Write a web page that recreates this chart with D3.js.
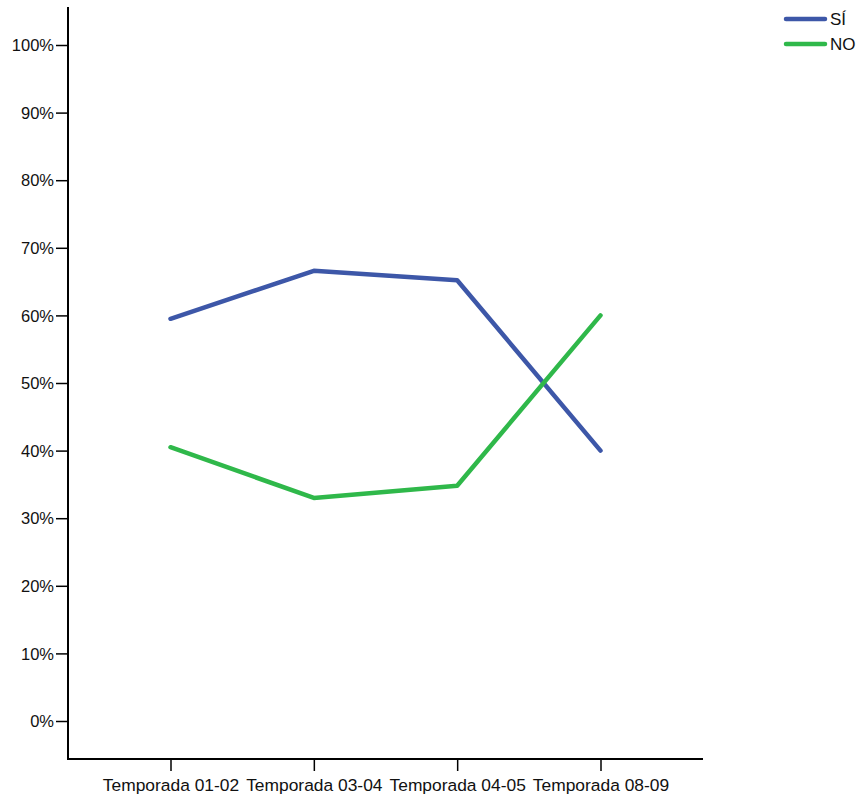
<!DOCTYPE html>
<html><head><meta charset="utf-8">
<script src="https://cdn.jsdelivr.net/npm/d3@7"></script>
<style>body{margin:0;background:#fff}svg{display:block}text{font-family:"Liberation Sans",Arial,sans-serif}</style>
</head><body><svg id="c" width="859" height="796"></svg>
<script>
const categories = ["Temporada 01-02","Temporada 03-04","Temporada 04-05","Temporada 08-09"];
const seriesNames = ["SÍ","NO"];
const siValues = [59.5, 66.6, 65.2, 40.0];
const noValues = [40.5, 33.0, 34.8, 60.0];
const yTicks = [0,10,20,30,40,50,60,70,80,90,100];
const colors = ["#3d57a8","#2fb84a"];

const svg = d3.select("#c");
const x = d3.scalePoint().domain(categories).range([170.5, 600.5]);
const y = d3.scaleLinear().domain([0,100]).range([721, 45]);
const axisLeftX = 68, axisBottomY = 759;

// y axis
const gy = svg.append("g").attr("transform",`translate(${axisLeftX},0)`)
  .call(d3.axisLeft(y).tickValues(yTicks).tickFormat(d=>d+"%").tickSize(12).tickSizeOuter(0));
gy.select(".domain").remove();
gy.append("line").attr("x1",0).attr("x2",0).attr("y1",7).attr("y2",axisBottomY+1).attr("stroke","#000").attr("stroke-width",2);
gy.selectAll(".tick line").attr("stroke","#000").attr("stroke-width",1.5);
gy.selectAll(".tick text").attr("font-size",16.5).attr("fill","#111").attr("x",-14).attr("dy","0.35em");

// x axis
const gx = svg.append("g").attr("transform",`translate(0,${axisBottomY})`)
  .call(d3.axisBottom(x).tickSize(12).tickSizeOuter(0));
gx.select(".domain").remove();
gx.append("line").attr("x1",axisLeftX-1).attr("x2",703).attr("y1",0).attr("y2",0).attr("stroke","#000").attr("stroke-width",2);
gx.selectAll(".tick line").attr("stroke","#000").attr("stroke-width",1.5);
gx.selectAll(".tick text").attr("font-size",17.4).attr("fill","#111").attr("y",26).attr("dy","0.35em");

const line = d3.line().x((d,i)=>x(categories[i])).y(d=>y(d));
[siValues, noValues].forEach((vals,k)=>{
  svg.append("path").attr("d", line(vals)).attr("fill","none").attr("stroke",colors[k])
    .attr("stroke-width",4.5).attr("stroke-linecap","round").attr("stroke-linejoin","round");
});

// legend
const lg = svg.append("g");
seriesNames.forEach((n,k)=>{
  const yy = 19 + k*25;
  lg.append("line").attr("x1",786).attr("x2",825).attr("y1",yy).attr("y2",yy)
    .attr("stroke",colors[k]).attr("stroke-width",4.5).attr("stroke-linecap","round");
  lg.append("text").attr("x",830).attr("y",yy).attr("dy","0.35em").attr("font-size",17).attr("fill","#111").text(n);
});
</script></body></html>
